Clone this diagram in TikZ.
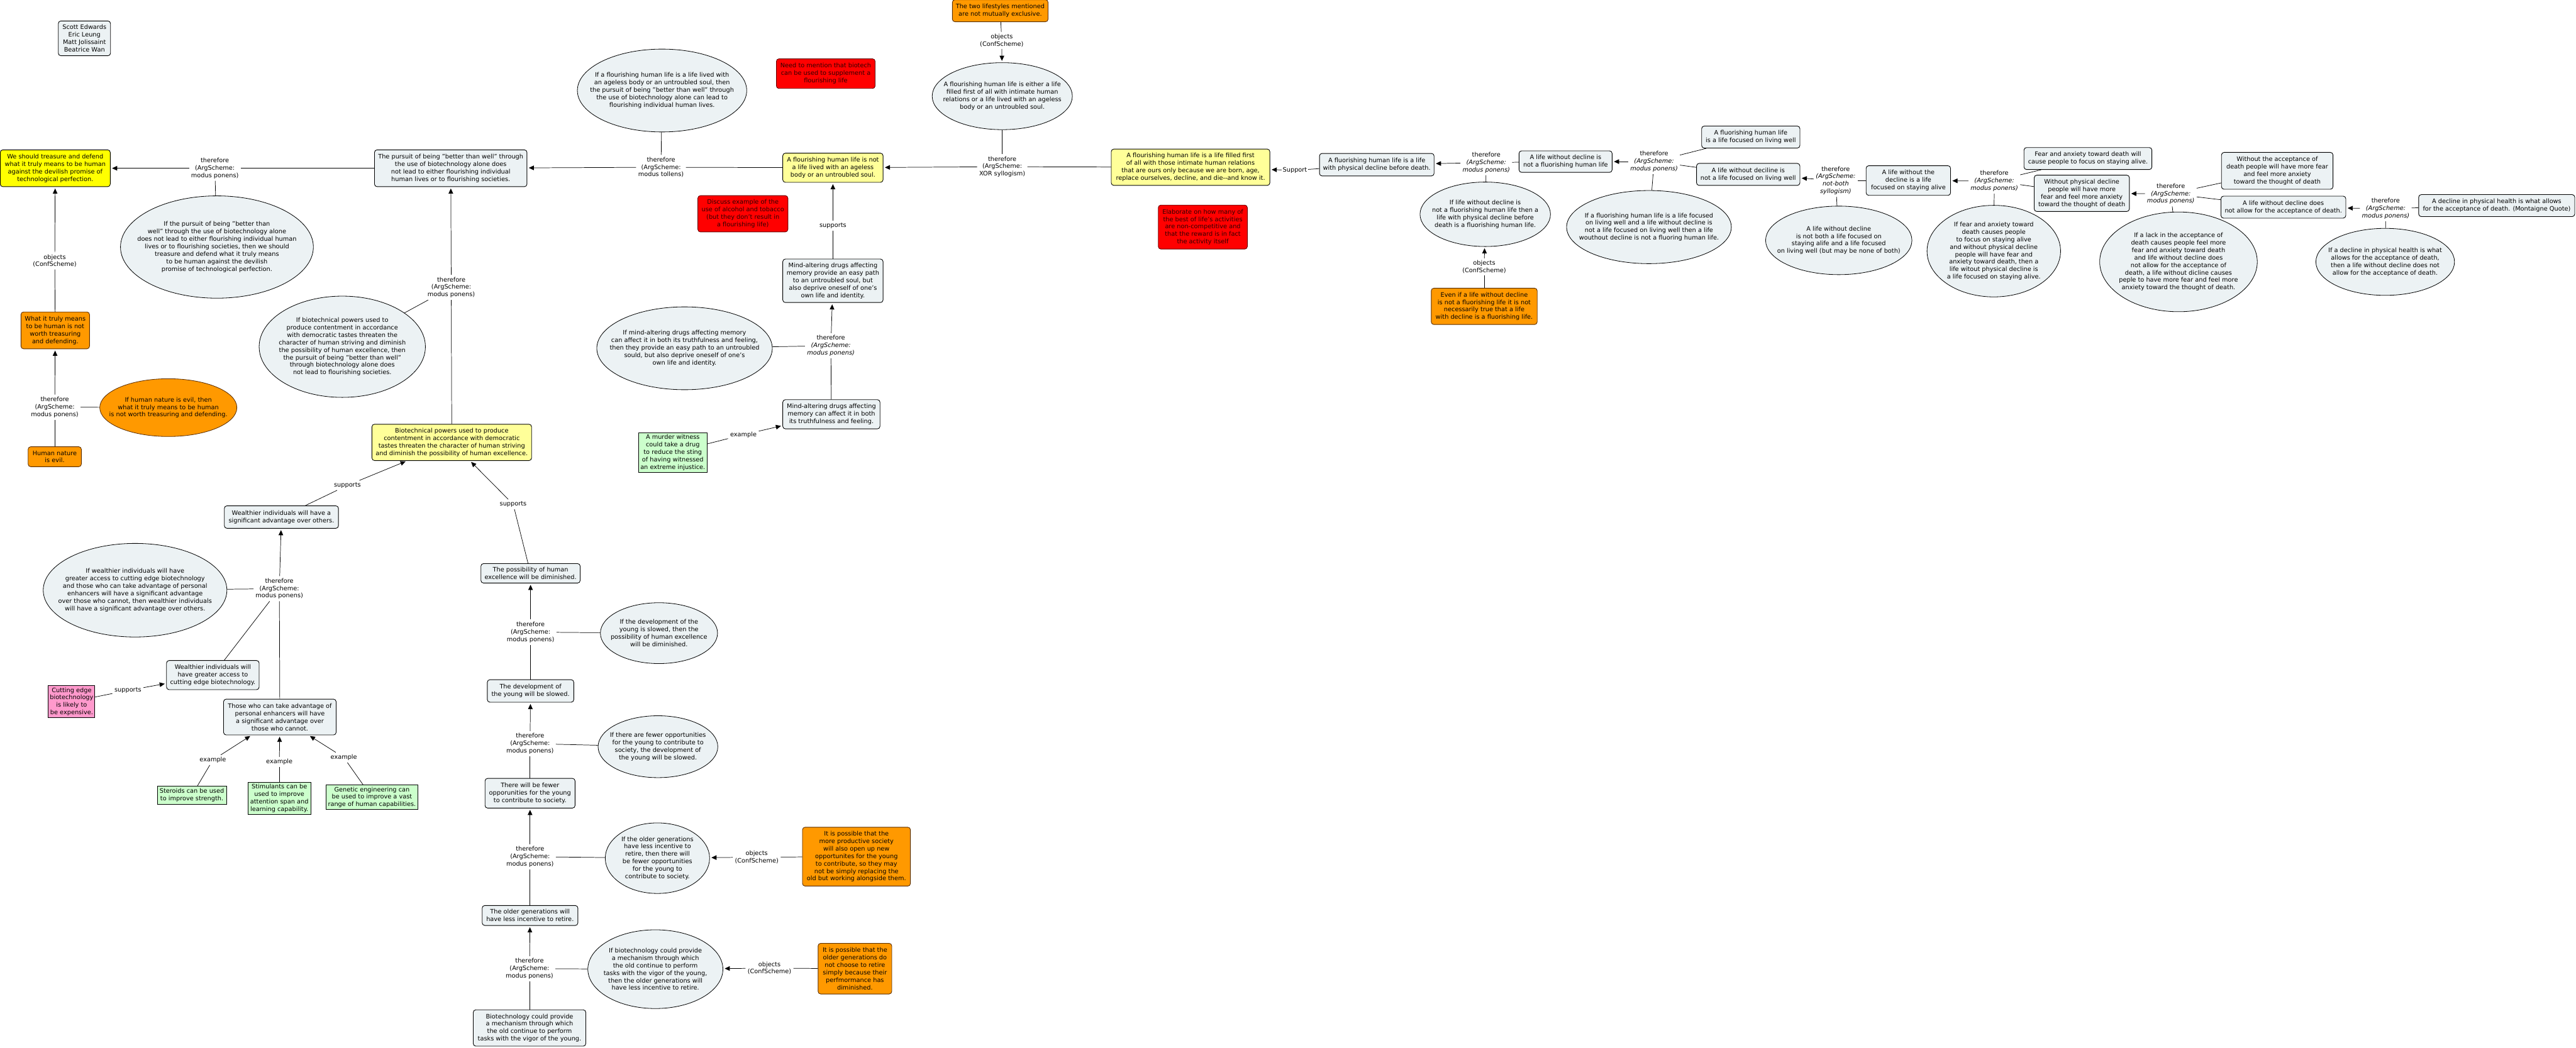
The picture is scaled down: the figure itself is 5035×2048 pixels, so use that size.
\documentclass[tikz,border=0pt]{standalone}
\usepackage{fontspec}
\setmainfont{DejaVu Sans}
\usetikzlibrary{shapes.geometric, arrows.meta, positioning}
\definecolor{claimfill}{RGB}{236,242,244}
\definecolor{mainyellow}{RGB}{255,255,0}
\definecolor{paleyellow}{RGB}{255,255,153}
\definecolor{objorange}{RGB}{255,153,0}
\definecolor{orangeline}{RGB}{90,45,0}
\definecolor{notered}{RGB}{255,0,0}
\definecolor{noteline}{RGB}{100,0,0}
\definecolor{notetext}{RGB}{45,0,0}
\definecolor{examplegreen}{RGB}{204,255,204}
\definecolor{supportpink}{RGB}{255,153,204}

\begin{document}
\begin{tikzpicture}[x=1pt, y=-1pt, every node/.style={font=\fontsize{12pt}{14.6pt}\selectfont}]
    \tikzstyle{claim} = [rectangle, rounded corners=5pt, draw=black, line width=1.1pt, fill=claimfill, align=center, inner sep=4pt]
    \tikzstyle{yclaim} = [claim, fill=paleyellow]
    \tikzstyle{objection} = [claim, fill=objorange, draw=orangeline]
    \tikzstyle{note} = [claim, fill=notered, draw=noteline, text=notetext]
    \tikzstyle{ex} = [rectangle, draw=black, line width=1.1pt, fill=examplegreen, align=center, inner sep=3pt]
    \tikzstyle{ell} = [ellipse, draw=black, line width=1pt, fill=claimfill, inner sep=0pt]
    \tikzstyle{tag} = [align=center, inner sep=4pt]
    \tikzstyle{link} = [line width=0.9pt]
    \tikzstyle{arrow} = [line width=0.9pt, -{Triangle[length=10pt, width=9pt]}, shorten >=3pt]
    \tikzset{sz/.style 2 args={minimum width=#1pt, minimum height=#2pt}}

    \useasboundingbox (0,0) rectangle (5035,2048);

    % ---- left column
    \node[claim, sz={102}{68}] (authors) at (165,75) {Scott Edwards\\Eric Leung\\Matt Jolissaint\\Beatrice Wan};
    \node[claim, fill=mainyellow, sz={215}{72}] (treasure) at (108,329) {We should treasure and defend\\what it truly means to be human\\against the devilish promise of\\technological perfection.};
    \node[claim, sz={298}{72}] (pursuit) at (881,329) {The pursuit of being "better than well" through\\the use of biotechnology alone does\\not lead to either flourishing individual\\human lives or to flourishing societies.};
    \node[ell, sz={377}{200}] (ifpursuit) at (424,483) {};
    \node[align=center] (ifpursuit-t) at (ifpursuit) {If the pursuit of being "better than\\well" through the use of biotechnology alone\\does not lead to either flourishing individual human\\lives or to flourishing societies, then we should\\treasure and defend what it truly means\\to be human against the devilish\\promise of technological perfection.};
    \node[objection, sz={134}{72}] (truly) at (108,646) {What it truly means\\to be human is not\\worth treasuring\\and defending.};
    \node[ell, fill=objorange, draw=orangeline, sz={268}{113}] (ifevil) at (329,797) {};
    \node[align=center] (ifevil-t) at (ifevil) {If human nature is evil, then\\what it truly means to be human\\is not worth treasuring and defending.};
    \node[objection, sz={104}{39}] (evil) at (107,893) {Human nature\\is evil.};

    \node[ell, sz={325}{198}] (ifbiopower) at (669,678) {};
    \node[align=center] (ifbiopower-t) at (ifbiopower) {If biotechnical powers used to\\produce contentment in accordance\\with democratic tastes threaten the\\character of human striving and diminish\\the possibility of human excellence, then\\the pursuit of being "better than well"\\through biotechnology alone does\\not lead to flourishing societies.};
    \node[yclaim, sz={312}{71}] (biopower) at (883,865) {Biotechnical powers used to produce\\contentment in accordance with democratic\\tastes threaten the character of human striving\\and diminish the possibility of human excellence.};
    \node[claim, sz={223}{44}] (wealthsig) at (550,1011) {Wealthier individuals will have a\\significant advantage over others.};
    \node[claim, sz={194}{38}] (excellence) at (1037,1121) {The possibility of human\\excellence will be diminished.};
    \node[ell, sz={359}{183}] (ifwealth) at (264,1154) {};
    \node[align=center] (ifwealth-t) at (ifwealth) {If wealthier individuals will have\\greater access to cutting edge biotechnology\\and those who can take advantage of personal\\enhancers will have a significant advantage\\over those who cannot, then wealthier individuals\\will have a significant advantage over others.};
    \node[claim, sz={181}{57}] (access) at (416,1320) {Wealthier individuals will\\have greater access to\\cutting edge biotechnology.};
    \node[ex, fill=supportpink, sz={91}{63}] (expensive) at (140,1372) {Cutting edge\\biotechnology\\is likely to\\be expensive.};
    \node[claim, sz={220}{70}] (enhancers) at (547,1402) {Those who can take advantage of\\personal enhancers will have\\a significant advantage over\\those who cannot.};
    \node[ex, sz={135}{35}] (steroids) at (375,1555) {Steroids can be used\\to improve strength.};
    \node[ex, sz={123}{63}] (stimulants) at (546,1561) {Stimulants can be\\used to improve\\attention span and\\learning capability.};
    \node[ex, sz={179}{48}] (genetic) at (727,1559) {Genetic engineering can\\be used to improve a vast\\range of human capabilities.};

    % ---- lower column
    \node[claim, sz={169}{44}] (slowed) at (1037,1351) {The development of\\the young will be slowed.};
    \node[ell, sz={229}{119}] (ifslowed) at (1288,1238) {};
    \node[align=center] (ifslowed-t) at (ifslowed) {If the development of the\\young is slowed, then the\\possibility of human excellence\\will be diminished.};
    \node[ell, sz={234}{121}] (iffewer) at (1286,1460) {};
    \node[align=center] (iffewer-t) at (iffewer) {If there are fewer opportunities\\for the young to contribute to\\society, the development of\\the young will be slowed.};
    \node[claim, sz={176}{58}] (fewer) at (1036,1551) {There will be fewer\\opporunities for the young\\to contribute to society.};
    \node[ell, sz={204}{138}] (ifretire) at (1285,1678) {};
    \node[align=center] (ifretire-t) at (ifretire) {If the older generations\\have less incentive to\\retire, then there will\\be fewer opportunities\\for the young to\\contribute to society.};
    \node[objection, sz={211}{115}] (alongside) at (1674,1675) {It is possible that the\\more productive society\\will also open up new\\opportunites for the young\\to contribute, so they may\\not be simply replacing the\\old but working alongside them.};
    \node[claim, sz={187}{39}] (retire) at (1036,1790) {The older generations will\\have less incentive to retire.};
    \node[ell, sz={264}{154}] (ifmechanism) at (1281,1895) {};
    \node[align=center] (ifmechanism-t) at (ifmechanism) {If biotechnology could provide\\a mechanism through which\\the old continue to perform\\tasks with the vigor of the young,\\then the older generations will\\have less incentive to retire.};
    \node[objection, sz={144}{99}] (performance) at (1671,1894) {It is possible that the\\older generations do\\not choose to retire\\simply because their\\perfmormance has\\diminished.};
    \node[claim, sz={220}{71}] (mechanism) at (1035,2010) {Biotechnology could provide\\a mechanism through which\\the old continue to perform\\tasks with the vigor of the young.};

    % ---- middle
    \node[ell, sz={331}{162}] (iflived) at (1294,177) {};
    \node[align=center] (iflived-t) at (iflived) {If a flourishing human life is a life lived with\\an ageless body or an untroubled soul, then\\the pursuit of being "better than well" through\\the use of biotechnology alone can lead to\\flourishing individual human lives.};
    \node[note, sz={193}{58}] (supplement) at (1614,144) {Need to mention that biotech\\can be used to supplement a\\flourishing life};
    \node[yclaim, sz={196}{57}] (notlived) at (1628,328) {A flourishing human life is not\\a life lived with an ageless\\body or an untroubled soul.};
    \node[note, sz={176}{71}] (alcohol) at (1452,418) {Discuss example of the\\use of alcohol and tobacco\\(but they don't result in\\a flourishing life)};
    \node[claim, sz={196}{85}] (easypath) at (1628,549) {Mind-altering drugs affecting\\memory provide an easy path\\to an untroubled soul, but\\also deprive oneself of one's\\own life and identity.};
    \node[ell, sz={343}{162}] (ifdrugs) at (1338,681) {};
    \node[align=center] (ifdrugs-t) at (ifdrugs) {If mind-altering drugs affecting memory\\can affect it in both its truthfulness and feeling,\\then they provide an easy path to an untroubled\\sould, but also deprive oneself of one's\\own life and identity.};
    \node[claim, sz={190}{57}] (truthful) at (1625,810) {Mind-altering drugs affecting\\memory can affect it in both\\its truthfulness and feeling.};
    \node[ex, sz={134}{77}] (witness) at (1315,885) {A murder witness\\could take a drug\\to reduce the sting\\of having witnessed\\an extreme injustice.};
    \node[objection, sz={187}{43}] (exclusive) at (1955,21) {The two lifestyles mentioned\\are not mutually exclusive.};
    \node[ell, sz={274}{131}] (either) at (1959,188) {};
    \node[align=center] (either-t) at (either) {A flourishing human life is either a life\\filled first of all with intimate human\\relations or a life lived with an ageless\\body or an untroubled soul.};
    \node[yclaim, sz={310}{71}] (relations) at (2327,327) {A flourishing human life is a life filled first\\of all with those intimate human relations\\that are ours only because we are born, age,\\replace ourselves, decline, and die-{}-and know it.};
    \node[note, sz={174}{86}] (activities) at (2351,444) {Elaborate on how many of\\the best of life's activities\\are non-competitive and\\that the reward is in fact\\the activity itself};

    % ---- right part
    \node[claim, sz={224}{44}] (withdecline) at (2691,322) {A fluorishing human life is a life\\with physical decline before death.};
    \node[claim, sz={182}{42}] (notflourishing) at (3060,316) {A life without decline is\\not a fluorishing human life};
    \node[ell, sz={255}{126}] (ifwithout) at (2903,419) {};
    \node[align=center] (ifwithout-t) at (ifwithout) {If life without decline is\\not a fluorishing human life then a\\life with physical decline before\\death is a fluorishing human life.};
    \node[objection, sz={207}{71}] (evenif) at (2901,599) {Even if a life without decline\\is not a fluorishing life it is not\\necessarily true that a life\\with decline is a fluorishing life.};
    \node[claim, sz={192}{43}] (livingwell) at (3422,268) {A fluorishing human life\\is a life focused on living well};
    \node[claim, sz={202}{43}] (notlivingwell) at (3417,341) {A life without deciline is\\not a life focused on living well};
    \node[ell, sz={322}{143}] (iflivingwell) at (3223,444) {};
    \node[align=center] (iflivingwell-t) at (iflivingwell) {If a fluorishing human life is a life focused\\on living well and a life without decline is\\not a life focused on living well then a life\\wouthout decline is not a fluoring human life.};
    \node[claim, sz={165}{58}] (stayingalive) at (3730,353) {A life without the\\decline is a life\\focused on staying alive};
    \node[ell, sz={286}{134}] (notboth) at (3594,470) {};
    \node[align=center] (notboth-t) at (notboth) {A life without decline\\is not both a life focused on\\staying alife and a life focused\\on living well (but may be none of both)};
    \node[ell, sz={261}{179}] (iffear) at (3897,491) {};
    \node[align=center] (iffear-t) at (iffear) {If fear and anxiety toward\\death causes people\\to focus on staying alive\\and without physical decline\\people will have fear and\\anxiety toward death, then a\\life witout physical decline is\\a life focused on staying alive.};
    \node[claim, sz={250}{43}] (fearcause) at (4081,310) {Fear and anxiety toward death will\\cause people to focus on staying alive.};
    \node[claim, sz={186}{71}] (morefear) at (4069,378) {Without physical decline\\people will have more\\fear and feel more anxiety\\toward the thought of death};
    \node[claim, sz={218}{72}] (noaccept) at (4451,334) {Without the acceptance of\\death people will have more fear\\and feel more anxiety\\toward the thought of death};
    \node[claim, sz={244}{43}] (notallow) at (4463,405) {A life without decline does\\not allow for the acceptance of death.};
    \node[ell, sz={308}{195}] (iflack) at (4258,512) {};
    \node[align=center] (iflack-t) at (iflack) {If a lack in the acceptance of\\death causes people feel more\\fear and anxiety toward death\\and life without decline does\\not allow for the acceptance of\\death, a life without dicline causes\\peple to have more fear and feel more\\anxiety toward the thought of death.};
    \node[claim, sz={305}{43}] (montaigne) at (4880,402) {A decline in physical health is what allows\\for the acceptance of death. (Montaigne Quote)};
    \node[ell, sz={271}{131}] (ifhealth) at (4662,512) {};
    \node[align=center] (ifhealth-t) at (ifhealth) {If a decline in physical health is what\\allows for the acceptance of death,\\then a life without decline does not\\allow for the acceptance of death.};

    % ---- link labels
    \node[tag] (t1) at (420,329) {therefore\\(ArgScheme:\\modus ponens)};
    \node[tag] (tmt) at (1292,327) {therefore\\(ArgScheme:\\modus tollens)};
    \node[tag] (txor) at (1959,326) {therefore\\(ArgScheme:\\XOR syllogism)};
    \node[tag] (t2) at (882,562) {therefore\\(ArgScheme:\\modus ponens)};
    \node[tag] (t3) at (107,796) {therefore\\(ArgScheme:\\modus ponens)};
    \node[tag] (o1) at (107,510) {objects\\(ConfScheme)};
    \node[tag] (s1) at (679,949) {supports};
    \node[tag] (s2) at (1003,986) {supports};
    \node[tag] (t4) at (546,1151) {therefore\\(ArgScheme:\\modus ponens)};
    \node[tag] (s3) at (250,1350) {supports};
    \node[tag] (e1) at (416,1486) {example};
    \node[tag] (e2) at (546,1490) {example};
    \node[tag] (e3) at (672,1481) {example};
    \node[tag] (t5) at (1037,1236) {therefore\\(ArgScheme:\\modus ponens)};
    \node[tag] (t6) at (1036,1454) {therefore\\(ArgScheme:\\modus ponens)};
    \node[tag] (t7) at (1036,1675) {therefore\\(ArgScheme:\\modus ponens)};
    \node[tag] (o2) at (1479,1676) {objects\\(ConfScheme)};
    \node[tag] (t8) at (1035,1894) {therefore\\(ArgScheme:\\modus ponens)};
    \node[tag] (o3) at (1504,1893) {objects\\(ConfScheme)};
    \node[tag] (s4) at (1628,441) {supports};
    \node[tag] (t9) at (1624,676) {therefore\\\textit{(ArgScheme:}\\\textit{modus ponens)}};
    \node[tag] (e4) at (1453,850) {example};
    \node[tag] (o4) at (1958,79) {objects\\(ConfScheme)};
    \node[tag, inner sep=2pt] (s5) at (2531,333) {Support};
    \node[tag] (t10) at (2905,318) {therefore\\\textit{(ArgScheme:}\\\textit{modus ponens)}};
    \node[tag] (o5) at (2901,522) {objects\\(ConfScheme)};
    \node[tag] (t11) at (3233,316) {therefore\\\textit{(ArgScheme:}\\\textit{modus ponens)}};
    \node[tag] (t12) at (3588,353) {therefore\\\textit{(ArgScheme:}\\\textit{not-both}\\\textit{syllogism)}};
    \node[tag] (t13) at (3898,354) {therefore\\\textit{(ArgScheme:}\\\textit{modus ponens)}};
    \node[tag] (t14) at (4243,379) {therefore\\\textit{(ArgScheme:}\\\textit{modus ponens)}};
    \node[tag] (t15) at (4663,408) {therefore\\\textit{(ArgScheme:}\\\textit{modus ponens)}};

    % ---- left connectors
    \draw[link] (pursuit) -- (t1);
    \draw[link] (ifpursuit) -- (t1);
    \draw[arrow] (t1) -- (treasure);
    \draw[link] (truly) -- (o1);
    \draw[arrow] (o1) -- (treasure);
    \draw[link] (evil) -- (t3);
    \draw[link] (ifevil) -- (t3);
    \draw[arrow] (t3) -- (truly);
    \draw[link] (notlived) -- (tmt);
    \draw[link] (iflived) -- (tmt);
    \draw[arrow] (tmt) -- (pursuit);
    \draw[link] (biopower) -- (t2);
    \draw[link] (ifbiopower) -- (t2);
    \draw[arrow] (t2) -- (pursuit);
    \draw[link] (wealthsig) -- (s1);
    \draw[arrow] (s1) -- (biopower);
    \draw[link] (excellence) -- (s2);
    \draw[arrow] (s2) -- (biopower);
    \draw[link] (enhancers) -- (t4);
    \draw[link] (access) -- (t4);
    \draw[link] (ifwealth) -- (t4);
    \draw[arrow] (t4) -- (wealthsig);
    \draw[link] (expensive) -- (s3);
    \draw[arrow] (s3) -- (access);
    \draw[link] (steroids) -- (e1);
    \draw[arrow] (e1) -- (enhancers);
    \draw[link] (stimulants) -- (e2);
    \draw[arrow] (e2) -- (enhancers);
    \draw[link] (genetic) -- (e3);
    \draw[arrow] (e3) -- (enhancers);

    % ---- lower connectors
    \draw[link] (slowed) -- (t5);
    \draw[link] (ifslowed) -- (t5);
    \draw[arrow] (t5) -- (excellence);
    \draw[link] (fewer) -- (t6);
    \draw[link] (iffewer) -- (t6);
    \draw[arrow] (t6) -- (slowed);
    \draw[link] (retire) -- (t7);
    \draw[link] (ifretire) -- (t7);
    \draw[arrow] (t7) -- (fewer);
    \draw[link] (alongside) -- (o2);
    \draw[arrow] (o2) -- (ifretire);
    \draw[link] (mechanism) -- (t8);
    \draw[link] (ifmechanism) -- (t8);
    \draw[arrow] (t8) -- (retire);
    \draw[link] (performance) -- (o3);
    \draw[arrow] (o3) -- (ifmechanism);

    % ---- middle connectors
    \draw[link] (easypath) -- (s4);
    \draw[arrow] (s4) -- (notlived);
    \draw[link] (truthful) -- (t9);
    \draw[link] (ifdrugs) -- (t9);
    \draw[arrow] (t9) -- (easypath);
    \draw[link] (witness) -- (e4);
    \draw[arrow] (e4) -- (truthful);
    \draw[link] (relations) -- (txor);
    \draw[link] (either) -- (txor);
    \draw[arrow] (txor) -- (notlived);
    \draw[link] (exclusive) -- (o4);
    \draw[arrow] (o4) -- (either);

    % ---- right connectors
    \draw[link] (withdecline) -- (s5);
    \draw[arrow] (s5) -- (relations);
    \draw[link] (notflourishing) -- (t10);
    \draw[link] (ifwithout) -- (t10);
    \draw[arrow] (t10) -- (withdecline);
    \draw[link] (evenif) -- (o5);
    \draw[arrow] (o5) -- (ifwithout);
    \draw[link] (livingwell) -- (t11);
    \draw[link] (notlivingwell) -- (t11);
    \draw[link] (iflivingwell) -- (t11);
    \draw[arrow] (t11) -- (notflourishing);
    \draw[link] (stayingalive) -- (t12);
    \draw[link] (notboth) -- (t12);
    \draw[arrow] (t12) -- (notlivingwell);
    \draw[link] (fearcause) -- (t13);
    \draw[link] (morefear) -- (t13);
    \draw[link] (iffear) -- (t13);
    \draw[arrow] (t13) -- (stayingalive);
    \draw[link] (noaccept) -- (t14);
    \draw[link] (notallow) -- (t14);
    \draw[link] (iflack) -- (t14);
    \draw[arrow] (t14) -- (morefear);
    \draw[link] (montaigne) -- (t15);
    \draw[link] (ifhealth) -- (t15);
    \draw[arrow] (t15) -- (notallow);
\end{tikzpicture}
\end{document}
